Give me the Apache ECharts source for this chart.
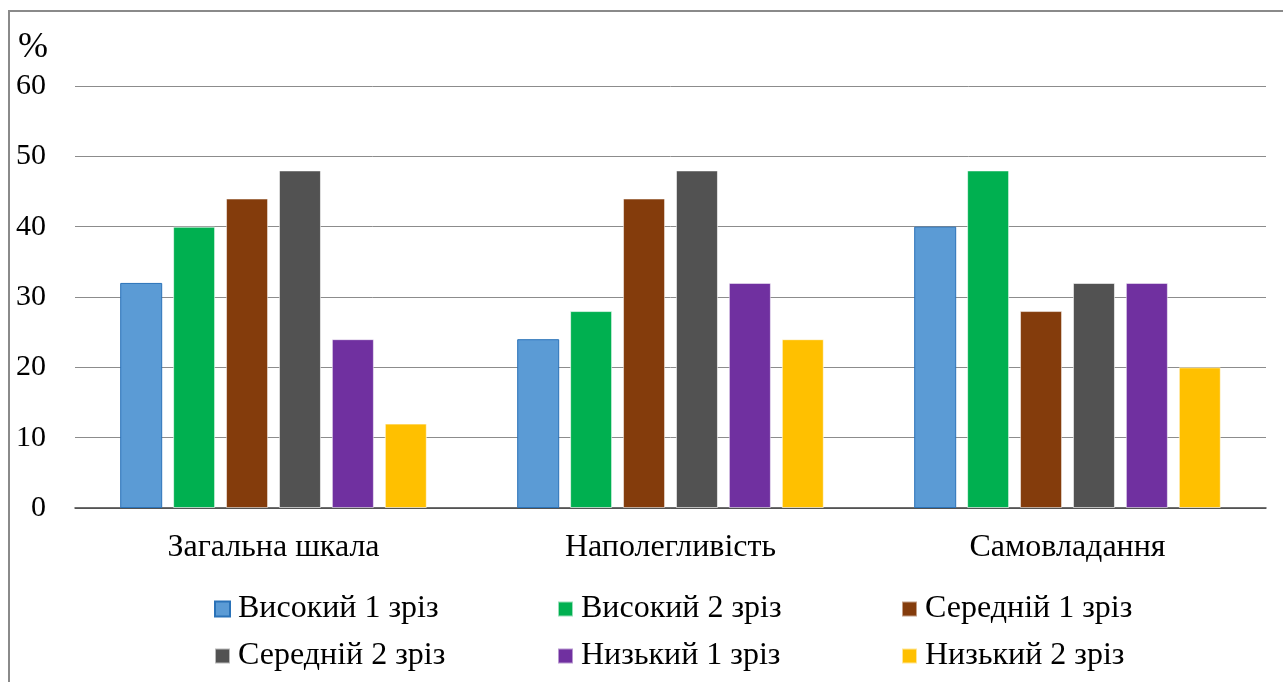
<!DOCTYPE html>
<html>
<head>
<meta charset="utf-8">
<title>Рівні за шкалами</title>
<script src="https://cdn.jsdelivr.net/npm/echarts@6/dist/echarts.min.js"></script>
<style>
  html, body { margin: 0; padding: 0; background: #fff; }
  #chart { width: 1283px; height: 682px; }
</style>
</head>
<body>
<div id="chart"></div>
<script>
// Scale names along the x axis
const categories = ['Загальна шкала', 'Наполегливість', 'Самовладання'];

// Series names (level + survey round)
const seriesNames = [
  'Високий 1 зріз', 'Високий 2 зріз', 'Середній 1 зріз',
  'Середній 2 зріз', 'Низький 1 зріз', 'Низький 2 зріз'
];

// Percentages per scale, one array per series
const high1 = [32, 24, 40];
const high2 = [40, 28, 48];
const mid1  = [44, 44, 28];
const mid2  = [48, 48, 32];
const low1  = [24, 32, 32];
const low2  = [12, 24, 20];

const yTicks = [0, 10, 20, 30, 40, 50, 60];

const values = [high1, high2, mid1, mid2, low1, low2];
const colors = ['#5b9bd5', '#00b050', '#843c0c', '#525252', '#7030a0', '#ffc000'];
const borders = ['#2a72b8', 'rgba(255,255,255,0.6)', 'rgba(255,255,255,0.5)',
                 'rgba(255,255,255,0.6)', 'rgba(255,255,255,0.5)', 'rgba(255,255,255,0.6)'];

const FONT = '"Liberation Serif", "Times New Roman", serif';

const series = seriesNames.map((name, i) => ({
  name: name,
  type: 'bar',
  data: values[i],
  barWidth: 42,
  barGap: '26%',
  itemStyle: { color: colors[i], borderColor: borders[i], borderWidth: 1 },
  emphasis: { disabled: true }
}));

// Legend laid out as a 3x2 grid: one legend component per entry
const legendCols = [214, 557, 901];
const legendRows = [609, 656];
const legends = seriesNames.map((name, i) => ({
  data: [name],
  left: legendCols[i % 3],
  top: legendRows[Math.floor(i / 3)] - 17,
  orient: 'horizontal',
  itemWidth: 15,
  itemHeight: 15,
  itemGap: 0,
  padding: 0,
  selectedMode: false,
  icon: 'rect',
  textStyle: { fontFamily: FONT, fontSize: 32, color: '#000', lineHeight: 34, padding: [0, 0, 0, 3] }
}));

const chart = echarts.init(document.getElementById('chart'), null, { renderer: 'canvas' });
chart.setOption({
  animation: false,
  backgroundColor: '#fff',
  grid: { left: 75, right: 17, top: 86, bottom: 174, containLabel: false },
  legend: legends,
  xAxis: {
    type: 'category',
    data: categories,
    axisLine: { show: true, lineStyle: { color: '#404040', width: 1.5 } },
    axisTick: { show: false },
    axisLabel: { fontFamily: FONT, fontSize: 32, color: '#000', margin: 24 }
  },
  yAxis: {
    type: 'value',
    min: yTicks[0],
    max: yTicks[yTicks.length - 1],
    interval: 10,
    axisLine: { show: false },
    axisTick: { show: false },
    axisLabel: { fontFamily: FONT, fontSize: 30, color: '#000', margin: 29 },
    splitLine: { lineStyle: { color: '#8c8c8c', width: 1 } }
  },
  series: series,
  graphic: [
    {
      type: 'rect',
      shape: { x: 9, y: 11, width: 1400, height: 1000 },
      style: { fill: 'none', stroke: '#8a8a8a', lineWidth: 2 },
      silent: true
    },
    {
      type: 'text',
      left: 18,
      top: 30,
      style: { text: '%', fontFamily: FONT, fontSize: 36, fill: '#000' },
      silent: true
    }
  ]
});
</script>
</body>
</html>
